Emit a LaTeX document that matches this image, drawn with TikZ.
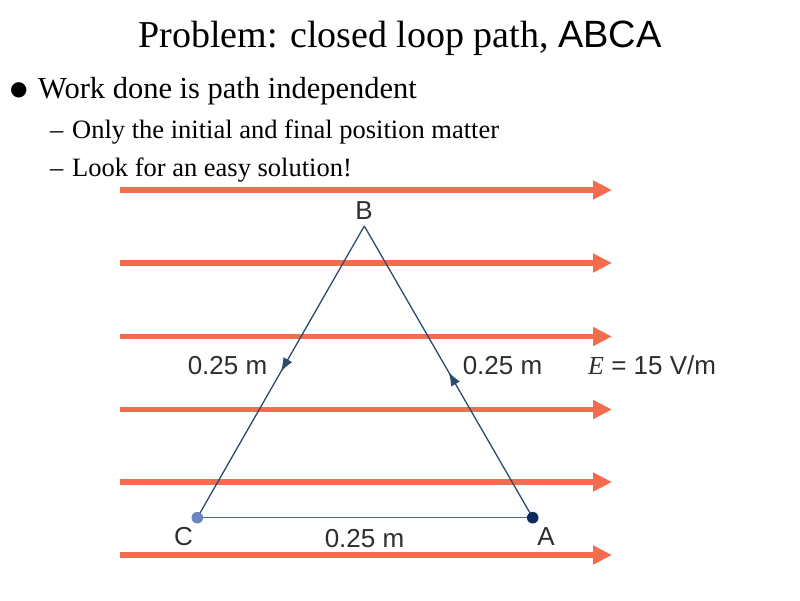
\documentclass[tikz,border=0pt]{standalone}
\usepackage{fontspec}
\setmainfont{Liberation Serif}
\newfontfamily\labsans{Liberation Sans}
\newfontfamily\symfont{DejaVu Sans}
\usetikzlibrary{arrows.meta,decorations.markings}
\definecolor{fieldorange}{RGB}{243,108,78}
\definecolor{pathblue}{RGB}{45,75,108}
\definecolor{baseblue}{RGB}{70,105,145}
\definecolor{dotlight}{RGB}{108,134,192}
\definecolor{dotdark}{RGB}{10,45,92}
\tikzset{
  fieldline/.style={draw=fieldorange, line width=5.5pt, -{Triangle[length=19pt,width=18pt]}},
  pathline/.style={draw=pathblue, line width=1.3pt},
  midarrow/.style={postaction={decorate}, decoration={markings, mark=at position 0.5 with {\arrow{Latex[length=14pt,width=10pt]}}}},
  lab/.style={font=\labsans\fontsize{26}{30}\selectfont, text=black!82, inner sep=0pt, anchor=base},
  titletext/.style={font=\fontsize{38}{44}\selectfont, inner sep=0pt, anchor=base},
  bulltext/.style={font=\fontsize{30.5}{36}\selectfont, inner sep=0pt, anchor=base west},
  subtext/.style={font=\fontsize{26.5}{32}\selectfont, inner sep=0pt, anchor=base west}
}
\begin{document}
\begin{tikzpicture}[x=1pt,y=-1pt]
\useasboundingbox (0,0) rectangle (800,600);
% title and bullets
\node[titletext] (title) at (400,47) {Problem: closed loop path, {\labsans ABCA}};
\node[font=\symfont\fontsize{20}{24}\selectfont, inner sep=0pt, anchor=base west] (bul) at (10,95) {●};
\node[bulltext] (b1) at (38,98) {Work done is path independent};
\node[subtext] (d1) at (50,138) {–};
\node[subtext] (s1) at (72,138) {Only the initial and final position matter};
\node[subtext] (d2) at (50,176) {–};
\node[subtext] (s2) at (72,176) {Look for an easy solution!};
% field lines
\foreach \i/\y in {1/190,2/263,3/336.5,4/409.5,5/482,6/555}{
  \coordinate (fs\i) at (120,\y);
  \coordinate (fe\i) at (612,\y);
  \draw[fieldline] (fs\i) -- (fe\i);
}
% triangle
\coordinate (A) at (532.7,517.7);
\coordinate (B) at (364.3,226);
\coordinate (C) at (197.3,517.7);
\draw[pathline, midarrow] (A) -- (B);
\draw[pathline, midarrow] (B) -- (C);
\draw[draw=baseblue, line width=1.3pt] (C) -- (A);
\fill[dotlight] (C) circle (5.8pt);
\fill[dotdark] (A) circle (5.8pt);
% labels
\node[lab] (lB) at (364,219) {B};
\node[lab] (lC) at (183.5,545) {C};
\node[lab] (lA) at (546,545) {A};
\node[lab] (lBC) at (227.5,374) {0.25 m};
\node[lab] (lAB) at (502.5,374) {0.25 m};
\node[lab] (lCA) at (364.5,547) {0.25 m};
\node[lab, anchor=base west] (lE) at (588,374) {{\rmfamily\itshape E} = 15 V/m};
\end{tikzpicture}
\end{document}
